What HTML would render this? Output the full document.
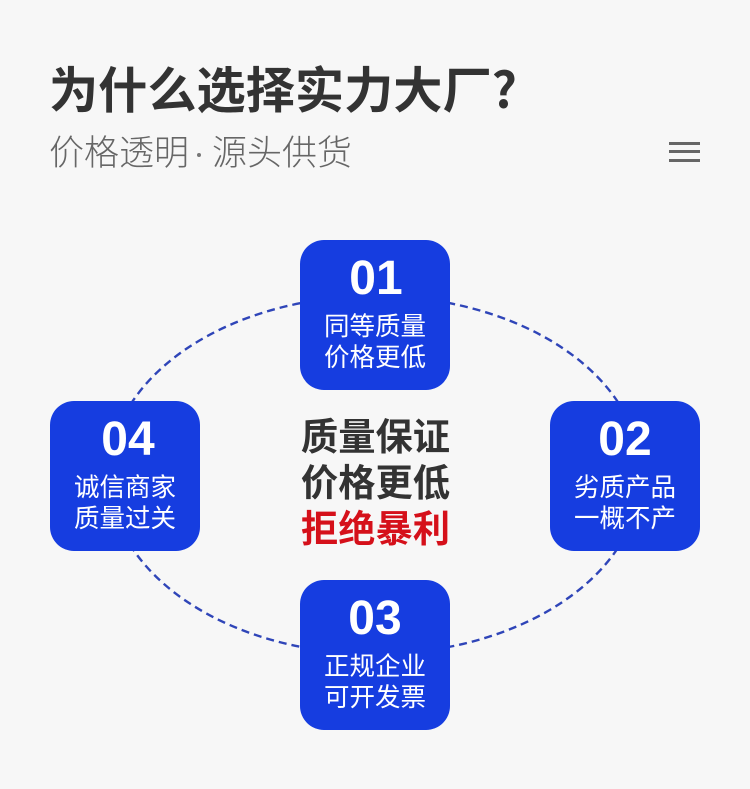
<!DOCTYPE html>
<html><head><meta charset="utf-8">
<style>
html,body{margin:0;padding:0;background:#f7f7f7}
#p{position:relative;width:750px;height:789px;overflow:hidden;background:#f7f7f7;font-family:"Liberation Sans","Noto Sans CJK SC",sans-serif}
.t{position:absolute;white-space:nowrap}
.b{position:absolute;width:150px;height:150px;border-radius:24px;background:#163de0;color:#fff;text-align:center}
.n{position:absolute;left:0;width:150px;top:13px;font-size:48px;line-height:52px;font-weight:700;font-family:"Liberation Sans",sans-serif}
.s{position:absolute;left:0;width:150px;top:69px;font-size:25.5px;line-height:31px;font-family:"Noto Sans CJK SC",sans-serif;font-weight:400}
.h{position:absolute;left:669px;width:31px;height:3px;background:#666}
.sub{top:127px;font-size:35px;line-height:48px;font-weight:300;color:#666;font-family:'Noto Sans CJK SC',sans-serif}
</style></head><body>
<div id="p">
<div class="t" style="left:49px;top:58px;font-size:49.2px;line-height:60px;font-weight:700;color:#333;font-family:'Noto Sans CJK SC',sans-serif">为什么选择实力大厂?</div>
<div class="t sub" style="left:49px">价格透明</div>
<div style="position:absolute;left:197px;top:153px;width:4px;height:4px;border-radius:50%;background:#777"></div>
<div class="t sub" style="left:212px">源头供货</div>
<div class="h" style="top:142px"></div><div class="h" style="top:150px"></div><div class="h" style="top:159px"></div>
<svg style="position:absolute;left:0;top:0" width="750" height="789"><ellipse cx="375" cy="475" rx="266" ry="179" fill="none" stroke="#2f45b8" stroke-width="2.4" stroke-dasharray="8 5"/></svg>
<div class="b" style="left:300px;top:240px"><div class="n" style="left:1px">01</div><div class="s">同等质量<br>价格更低</div></div>
<div class="b" style="left:550px;top:401px"><div class="n">02</div><div class="s">劣质产品<br>一概不产</div></div>
<div class="b" style="left:300px;top:580px"><div class="n">03</div><div class="s">正规企业<br>可开发票</div></div>
<div class="b" style="left:50px;top:401px"><div class="n" style="left:3px">04</div><div class="s">诚信商家<br>质量过关</div></div>
<div class="t" style="left:300.5px;width:150px;top:412px;text-align:center;font-size:37.3px;line-height:45.8px;font-weight:700;color:#333;font-family:'Noto Sans CJK SC',sans-serif">质量保证<br>价格更低<br><span style="color:#d5101a">拒绝暴利</span></div>
</div>
</body></html>
